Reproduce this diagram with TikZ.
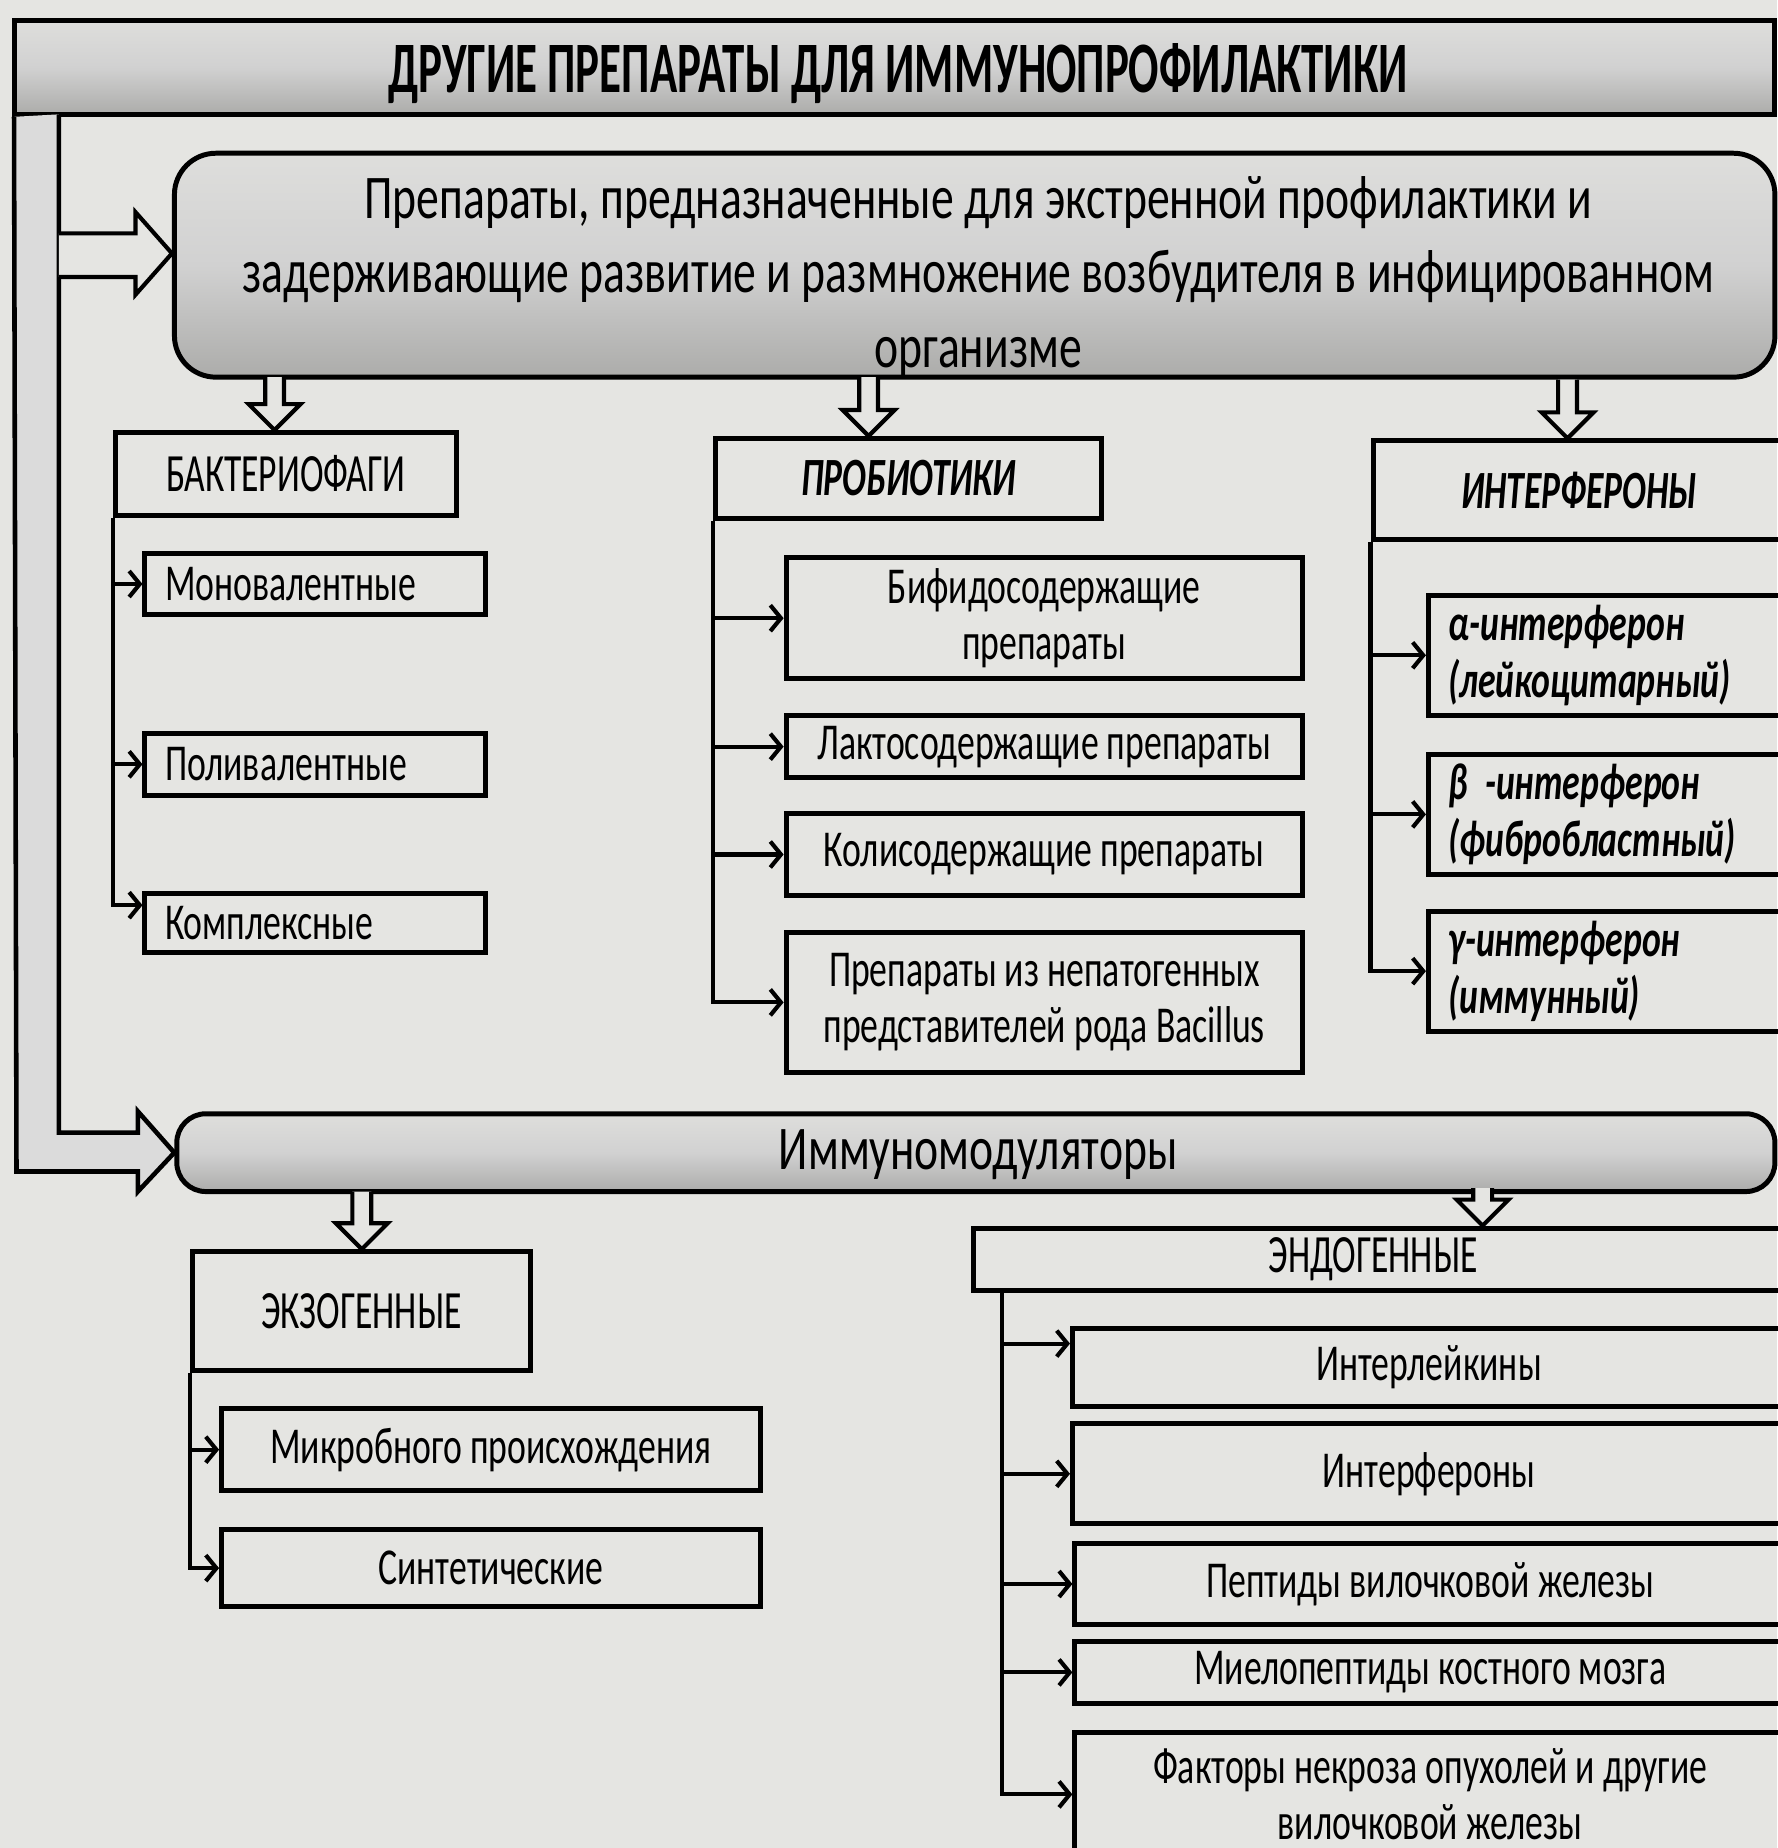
\documentclass[tikz,border=0pt]{standalone}
\usepackage{fontspec}
\setmainfont[FakeStretch=0.69]{Carlito}
\newfontfamily\bigfont[FakeStretch=0.735]{Carlito}
\newfontfamily\capfont[FakeStretch=0.66]{Carlito}
\newfontfamily\headfont[FakeStretch=0.62]{Carlito}
\usetikzlibrary{arrows.meta,positioning,calc}
\definecolor{paper}{RGB}{229,229,226}
\definecolor{barlight}{RGB}{222,222,220}
\definecolor{bardark}{RGB}{172,172,170}

% hollow block arrow from a coordinate down to a node
\newcommand{\BlockDown}[2]{%
  \coordinate(tip)at(#1|-#2.north);
  \draw[blockarr]($(#1)+(-8,0)$)--($(tip)+(-8,-22)$)--++(-14,0)--(tip)--++(22,-22)--++(-14,0)--($(#1)+(8,0)$);}

\tikzset{
  box/.style={draw,line width=1.2pt,inner sep=0pt,align=center,
    font=\fontsize{12.5}{13.6}\selectfont},
  leftbox/.style={box,align=left,text width=#1,inner xsep=1.7mm},
  headbox/.style={draw,line width=1.2pt,inner sep=0pt,font=\fontsize{13}{15}\selectfont\capfont},
  bar/.style={draw,line width=1.2pt,top color=barlight,bottom color=bardark,middle color=gray!36},
  blockarr/.style={draw,line width=1pt,fill=paper},
  branch/.style={line width=1pt,-{Straight Barb[length=0.9mm,width=2.2mm]}},
}

\begin{document}
\begin{tikzpicture}[x=0.1mm,y=-0.1mm]
\useasboundingbox(0,0)rectangle(1508,1568);
\fill[paper](0,0)rectangle(1508,1568);

% header
\node[bar,minimum width=149.4mm,minimum height=8mm](title)at(759,57){};
\node[font=\fontsize{17.5}{20}\selectfont\headfont\bfseries](titletext)at(762,62){ДРУГИЕ ПРЕПАРАТЫ ДЛЯ ИММУНОПРОФИЛАКТИКИ};

% left band with arrow to the modulators
\node[bar,rounded corners=7pt,minimum width=135.6mm,minimum height=6.6mm](immuno)at(828,978){};
\node[font=\fontsize{15}{18}\selectfont\bigfont](immunotext)at(830,980){Иммуномодуляторы};
\draw[line width=1.1pt,fill=gray!28]($(title.south west)+(2,0)$)--(14,994)--(117,994)--(117,1011)--(immuno.west)--(117,943)--(117,961)--(50,961)--(50,97);

% emergency prophylaxis
\node[bar,rounded corners=10pt,minimum width=135.8mm,minimum height=19mm](prep)at(827,225){};
\node[align=center,font=\fontsize{15}{17.9}\selectfont\bigfont](preptext)at(830,235){Препараты, предназначенные для экстренной профилактики и\\
задерживающие развитие и размножение возбудителя в инфицированном\\организме};
\draw[blockarr](50,198)--(115,198)--(115,180)--([yshift=1mm]prep.west)--(115,250)--(115,235)--(50,235);

% three groups
\node[headbox,minimum width=28.9mm,minimum height=7mm](bact)at(242.5,402){БАКТЕРИОФАГИ};
\node[headbox,minimum width=32.8mm,minimum height=6.8mm,font=\fontsize{13}{15}\selectfont\capfont\bfseries\itshape](prob)at(771,406){ПРОБИОТИКИ};
\node[headbox,minimum width=35mm,minimum height=8.4mm,font=\fontsize{13}{15}\selectfont\capfont\bfseries\itshape](intf)at(1340,416){ИНТЕРФЕРОНЫ};
\coordinate(a1)at(233,320);
\coordinate(a2)at(737,320);
\coordinate(a3)at(1330,322);
\BlockDown{a1}{bact}
\BlockDown{a2}{prob}
\BlockDown{a3}{intf}

% bacteriophages
\node[leftbox=25.5mm,minimum height=5.1mm](mono)at(267.5,495.5){Моновалентные};
\node[leftbox=25.5mm,minimum height=5.3mm](poli)at(267.5,648.5){Поливалентные};
\node[leftbox=25.5mm,minimum height=5mm](kompl)at(267.5,783){Комплексные};
\draw[branch](bact.south west)|-(mono.west);
\draw[branch](bact.south west)|-(poli.west);
\draw[branch](bact.south west)|-([yshift=1.5mm]kompl.west);

% probiotics
\node[box,minimum width=43.8mm,minimum height=10.3mm](bifi)at(886,524.5){Бифидосодержащие\\препараты};
\node[box,minimum width=43.8mm,minimum height=5.3mm](lakto)at(886,633.5){Лактосодержащие препараты};
\node[box,minimum width=43.8mm,minimum height=7mm](koli)at(886,725){Колисодержащие препараты};
\node[box,minimum width=43.8mm,minimum height=11.9mm](bacil)at(886,850.5){Препараты из непатогенных\\представителей рода Bacillus};
\draw[branch](prob.south west)|-(bifi.west);
\draw[branch](prob.south west)|-(lakto.west);
\draw[branch](prob.south west)|-(koli.west);
\draw[branch](prob.south west)|-(bacil.west);

% interferons
\node[leftbox=27mm,minimum height=10.2mm,font=\fontsize{12.5}{13.8}\selectfont\bfseries\itshape](alpha)at(1364,556){α-интерферон\\(лейкоцитарный)};
\node[leftbox=27mm,minimum height=10.2mm,font=\fontsize{12.5}{13.8}\selectfont\bfseries\itshape](beta)at(1364,691){β -интерферон\\(фибробластный)};
\node[leftbox=27mm,minimum height=10.2mm,font=\fontsize{12.5}{13.8}\selectfont\bfseries\itshape](gamma)at(1364,824){γ-интерферон\\(иммунный)};
\draw[branch](intf.south west)|-(alpha.west);
\draw[branch](intf.south west)|-(beta.west);
\draw[branch](intf.south west)|-(gamma.west);

% immunomodulators
\node[headbox,minimum width=28.7mm,minimum height=10.1mm](exo)at(306.5,1112.5){ЭКЗОГЕННЫЕ};
\node[headbox,minimum width=68.9mm,minimum height=5.3mm](endo)at(1170.5,1068.5){};
\node[font=\fontsize{13}{15}\selectfont\capfont](endotext)at(1165,1068){ЭНДОГЕННЫЕ};
\coordinate(a4)at(307,1011);
\coordinate(a5)at(1258,1008);
\BlockDown{a4}{exo}
\BlockDown{a5}{endo}

\node[box,minimum width=45.7mm,minimum height=7mm](mikro)at(416.5,1230){Микробного происхождения};
\node[box,minimum width=45.7mm,minimum height=6.5mm](sint)at(416.5,1330.5){Синтетические};
\draw[branch](exo.south west)|-(mikro.west);
\draw[branch](exo.south west)|-(sint.west);

\node[box,minimum width=60.5mm,minimum height=6.6mm](inleik)at(1212.5,1160){Интерлейкины};
\node[box,minimum width=60.5mm,minimum height=8.5mm](infer)at(1212.5,1250.5){Интерфероны};
\node[box,minimum width=60.3mm,minimum height=6.8mm](pept)at(1213.5,1344){Пептиды вилочковой железы};
\node[box,minimum width=60.3mm,minimum height=5.2mm](mielo)at(1213.5,1419){Миелопептиды костного мозга};
\node[box,minimum width=60.3mm,minimum height=10.5mm](fakt)at(1213.5,1522.5){Факторы некроза опухолей и другие\\вилочковой железы};
\coordinate(endoroot)at($(endo.south west)+(26,0)$);
\draw[branch](endoroot)|-([yshift=2mm]inleik.west);
\draw[branch](endoroot)|-(infer.west);
\draw[branch](endoroot)|-(pept.west);
\draw[branch](endoroot)|-(mielo.west);
\draw[branch](endoroot)|-(fakt.west);
\end{tikzpicture}
\end{document}
